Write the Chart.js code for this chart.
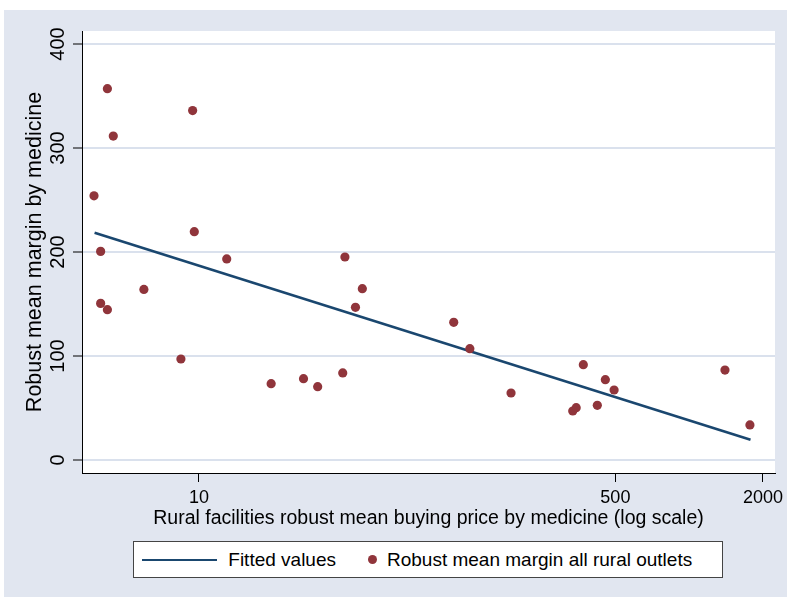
<!DOCTYPE html>
<html>
<head>
<meta charset="utf-8">
<title>Margin vs buying price</title>
<script src="https://cdn.jsdelivr.net/npm/chart.js@4.4.0/dist/chart.umd.min.js"></script>
<style>
  body { margin: 0; background: #fff; width: 787px; height: 599px; overflow: hidden; font-family: "Liberation Sans", Arial, sans-serif; }
  #frame { position: absolute; left: 4px; top: 10px; width: 783px; height: 587px; background: #E1E6F0; }
  #chartBox { position: absolute; left: 0; top: 0; width: 783px; height: 587px; }
  #legend { position: absolute; left: 128.7px; top: 531px; width: 588.6px; height: 35px; background: #fff; border: 1px solid #444; }
  #legend .swatch-line { position: absolute; left: 8px; top: 16.5px; width: 75px; height: 2.5px; }
  #legend .swatch-dot { position: absolute; top: 13px; width: 9px; height: 9px; border-radius: 50%; }
  #legend .lbl { position: absolute; top: 0; line-height: 35px; font-size: 19px; color: #000; white-space: nowrap; }
</style>
</head>
<body>
<div id="frame">
  <div id="chartBox"><canvas id="marginChart"></canvas></div>
  <div id="legend"></div>
</div>
<script>
// price (x, log scale) and margin (y), one entry per medicine
const buyingPrice = [3.73, 4.23, 4.47, 9.42, 9.57, 3.97, 5.96, 12.98, 39.4, 46.4,
                     3.97, 4.23, 8.44, 19.7, 26.7, 30.5, 38.6, 43.5, 109.5, 127.4,
                     187.6, 370, 455, 494, 335, 346, 422, 1400, 1770];
const meanMargin = [254, 357, 311.5, 336, 219.5, 200.6, 164, 193.3, 195.2, 164.7,
                    150.6, 144.5, 97.1, 73.4, 78.2, 70.5, 83.7, 146.8, 132.4, 107,
                    64.4, 91.7, 77.2, 67.3, 47.1, 50.3, 52.6, 86.5, 33.7];

// fitted line ends
const fitPrice = [3.75, 1780];
const fitMargin = [218.5, 19.5];

const xTickValues = [10, 500, 2000];
const yTickValues = [0, 100, 200, 300, 400];

const seriesNames = ['Fitted values', 'Robust mean margin all rural outlets'];
const xTitle = 'Rural facilities robust mean buying price by medicine (log scale)';
const yTitle = 'Robust mean margin by medicine';

const NAVY = '#1A476F';
const MAROON = '#90353B';

Chart.defaults.font.family = '"Liberation Sans", Arial, sans-serif';
Chart.defaults.color = '#000';

// white plot region, the rest stays light gray
const plotBg = {
    id: 'plotBg',
    beforeDraw(chart) {
        const { ctx, chartArea: a } = chart;
        ctx.save();
        ctx.fillStyle = '#fff';
        ctx.fillRect(a.left, a.top, a.right - a.left, a.bottom - a.top);
        ctx.restore();
    }
};

const ctx = document.getElementById('marginChart');
new Chart(ctx, {
    type: 'scatter',
    data: {
        datasets: [
            {
                label: seriesNames[0],
                data: fitPrice.map((x, i) => ({ x: x, y: fitMargin[i] })),
                showLine: true,
                borderColor: NAVY,
                borderWidth: 2.5,
                pointRadius: 0,
                order: 2
            },
            {
                label: seriesNames[1],
                data: buyingPrice.map((x, i) => ({ x: x, y: meanMargin[i] })),
                backgroundColor: MAROON,
                borderWidth: 0,
                pointRadius: 4.6,
                order: 1
            }
        ]
    },
    options: {
        responsive: true,
        maintainAspectRatio: false,
        animation: false,
        events: [],
        layout: { padding: { left: 0, top: 21, right: 12, bottom: 0 } },
        plugins: {
            legend: { display: false },
            tooltip: { enabled: false }
        },
        scales: {
            x: {
                type: 'logarithmic',
                min: 3.332,
                max: 2240,
                afterBuildTicks: s => { s.ticks = xTickValues.map(v => ({ value: v })); },
                afterFit: s => { s.height = 124; s.paddingLeft = 0; s.paddingRight = 0; },
                ticks: {
                    callback: v => String(v),
                    font: { size: 18 },
                    color: '#000',
                    padding: 5.7,
                    maxRotation: 0,
                    autoSkip: false
                },
                grid: { drawOnChartArea: false, tickLength: 9, tickColor: '#000', tickWidth: 1 },
                border: { color: '#000', width: 1 },
                title: {
                    display: true,
                    text: xTitle,
                    font: { size: 19.5 },
                    color: '#000',
                    padding: { top: 0, bottom: 66.8 }
                }
            },
            y: {
                type: 'linear',
                min: -12.5,
                max: 412.5,
                afterBuildTicks: s => { s.ticks = yTickValues.map(v => ({ value: v })); },
                afterFit: s => { s.width = 78; s.paddingTop = 0; s.paddingBottom = 0; },
                ticks: {
                    font: { size: 20 },
                    color: '#000',
                    minRotation: 90,
                    maxRotation: 90,
                    crossAlign: 'center',
                    padding: -2.5
                },
                grid: { color: 'rgb(218,225,237)', lineWidth: 2, tickLength: 9, tickColor: '#000', tickWidth: 1 },
                border: { color: '#000', width: 1 },
                title: {
                    display: true,
                    text: yTitle,
                    font: { size: 21.5 },
                    color: '#000',
                    padding: { top: 18.6, bottom: 0 }
                }
            }
        }
    },
    plugins: [plotBg]
});

// legend box, built from the series names
const legend = document.getElementById('legend');
legend.innerHTML =
    '<div class="swatch-line" style="background:' + NAVY + '"></div>' +
    '<span class="lbl" style="left:94.6px">' + seriesNames[0] + '</span>' +
    '<div class="swatch-dot" style="left:234.6px;background:' + MAROON + '"></div>' +
    '<span class="lbl" style="left:253.3px">' + seriesNames[1] + '</span>';
</script>
</body>
</html>
